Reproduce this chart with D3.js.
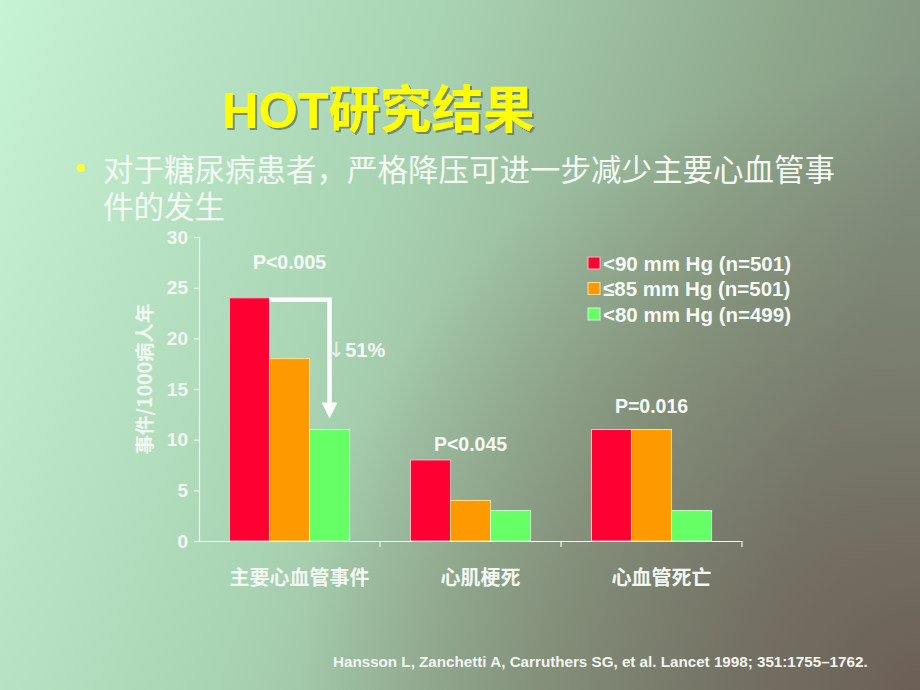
<!DOCTYPE html>
<html>
<head>
<meta charset="utf-8">
<script src="https://cdn.jsdelivr.net/npm/d3@7"></script>
<style>
  html, body { margin: 0; padding: 0; }
  svg { display: block; }
</style>
</head>
<body>
<svg id="chart" width="920" height="690"></svg>
<script>
// data
const categories = ["主要心血管事件", "心肌梗死", "心血管死亡"];
const series = ["<90 mm Hg (n=501)", "≤85 mm Hg (n=501)", "<80 mm Hg (n=499)"];
const red = [24, 8, 11];      // <90
const orange = [18, 4, 11];   // <=85
const green = [11, 3, 3];     // <80
const yTicks = [0, 5, 10, 15, 20, 25, 30];
const pTexts = ["P<0.005", "P<0.045", "P=0.016"];
const pLevels = [26.8, 8.9, 12.6];  // level of each p label, in chart units
const reduction = "51%";

const colors = ["#ff0033", "#ff9900", "#66ff66"];
const edges = ["#ffb6c0", "#ffe08a", "#c8ffc8"];
const values = [red, orange, green];

const svg = d3.select("#chart");
const W = 920, H = 690;
const latin = "'Liberation Sans', Arial, sans-serif";
const cjk = "'Noto Sans CJK SC', 'Liberation Sans', sans-serif";

// background
const defs = svg.append("defs");
const lg = defs.append("linearGradient").attr("id", "bg").attr("x1", 0).attr("y1", 0).attr("x2", 1).attr("y2", 0.25);
lg.append("stop").attr("offset", 0).attr("stop-color", "#c6f3d4");
lg.append("stop").attr("offset", 0.45).attr("stop-color", "#a9d4b4");
lg.append("stop").attr("offset", 0.8).attr("stop-color", "#8fa98d");
lg.append("stop").attr("offset", 1).attr("stop-color", "#839480");
const rg = defs.append("radialGradient").attr("id", "shade")
  .attr("gradientUnits", "userSpaceOnUse").attr("cx", W).attr("cy", H).attr("r", 620);
rg.append("stop").attr("offset", 0).attr("stop-color", "#6c5f55").attr("stop-opacity", 1);
rg.append("stop").attr("offset", 0.5).attr("stop-color", "#6c5f55").attr("stop-opacity", 0.45);
rg.append("stop").attr("offset", 1).attr("stop-color", "#6c5f55").attr("stop-opacity", 0);
const flt = defs.append("filter").attr("id", "tshadow").attr("x", "-5%").attr("y", "-10%").attr("width", "110%").attr("height", "130%");
flt.append("feDropShadow").attr("dx", 2).attr("dy", 2).attr("stdDeviation", 0.6)
  .attr("flood-color", "#5a6a55").attr("flood-opacity", 0.7);

svg.append("rect").attr("width", W).attr("height", H).attr("fill", "url(#bg)");
svg.append("rect").attr("width", W).attr("height", H).attr("fill", "url(#shade)");

// title
svg.append("text").attr("x", 222).attr("y", 128)
  .attr("font-family", latin).attr("font-weight", "bold").attr("font-size", 50.5)
  .attr("fill", "#ffff00").attr("filter", "url(#tshadow)")
  .text("HOT")
  .append("tspan").attr("font-family", cjk).attr("font-size", 51.5).text("研究结果");

// bullet
svg.append("circle").attr("cx", 81).attr("cy", 168).attr("r", 4).attr("fill", "#ffff33");
svg.append("text").attr("x", 103).attr("y", 181)
  .attr("font-family", cjk).attr("font-size", 30.5).attr("fill", "#f4fbf4")
  .text("对于糖尿病患者，严格降压可进一步减少主要心血管事");
svg.append("text").attr("x", 103).attr("y", 218)
  .attr("font-family", cjk).attr("font-size", 30.5).attr("fill", "#f4fbf4")
  .text("件的发生");

// scales
const x0 = d3.scaleBand().domain(categories).range([199, 742]);
const x1 = d3.scaleBand().domain(series).range([0, x0.bandwidth()]).paddingOuter(0.76);
const y = d3.scaleLinear().domain([0, 30]).range([541, 237]);

// bars
const g = svg.append("g");
series.forEach((s, si) => {
  g.selectAll(null).data(categories).join("rect")
    .attr("x", c => x0(c) + x1(s))
    .attr("y", (c, i) => y(values[si][i]))
    .attr("width", x1.bandwidth())
    .attr("height", (c, i) => y(0) - y(values[si][i]))
    .attr("fill", colors[si])
    .attr("stroke", edges[si]).attr("stroke-width", 1);
});

// axes
const axisColor = "#eef6ee";
const yAxis = svg.append("g").attr("transform", "translate(199,0)")
  .call(d3.axisLeft(y).tickValues(yTicks).tickSize(5).tickPadding(6));
const xAxis = svg.append("g").attr("transform", `translate(0,${y(0)})`)
  .call(d3.axisBottom(x0).tickSize(0).tickFormat(""));
[yAxis, xAxis].forEach(a => {
  a.select(".domain").attr("stroke", axisColor).attr("stroke-width", 1.2);
  a.selectAll(".tick line").attr("stroke", axisColor).attr("stroke-width", 1.2);
});
yAxis.selectAll(".tick text").attr("fill", "#f2f8f2")
  .attr("font-family", latin).attr("font-weight", "bold").attr("font-size", 19);
// category boundary ticks
svg.append("g").selectAll("line").data(categories).join("line")
  .attr("x1", c => x0(c) + x0.bandwidth()).attr("x2", c => x0(c) + x0.bandwidth())
  .attr("y1", y(0)).attr("y2", y(0) + 6)
  .attr("stroke", axisColor).attr("stroke-width", 1.2);
// category labels
svg.append("g").selectAll("text").data(categories).join("text")
  .attr("x", c => x0(c) + x0.bandwidth() / 2 + 10).attr("y", 585)
  .attr("text-anchor", "middle")
  .attr("font-family", cjk).attr("font-weight", "bold").attr("font-size", 20)
  .attr("fill", "#f2f8f2").text(c => c);

// y axis title
svg.append("text").attr("transform", "translate(152,379) rotate(-90)")
  .attr("text-anchor", "middle")
  .attr("font-family", cjk).attr("font-weight", "bold").attr("font-size", 19.5)
  .attr("fill", "#f2f8f2")
  .text("事件/1000病人年");

// p values
svg.append("g").selectAll("text").data(categories).join("text")
  .attr("x", c => x0(c) + x0.bandwidth() / 2)
  .attr("y", (c, i) => y(pLevels[i]))
  .attr("text-anchor", "middle")
  .attr("font-family", latin).attr("font-weight", "bold").attr("font-size", 19.5)
  .attr("fill", "#f6fbf6").text((c, i) => pTexts[i]);

// reduction arrow from <90 to <80 in first group
const c0 = categories[0];
const xStart = x0(c0) + x1(series[0]) + x1.bandwidth();
const xMid = x0(c0) + x1(series[2]) + x1.bandwidth() / 2;
const yTop = y(red[0]) + 2;
const yTip = y(green[0]) - 11;
svg.append("path")
  .attr("d", `M${xStart},${yTop} H${xMid} V${yTip - 14}`)
  .attr("fill", "none").attr("stroke", "#ffffff").attr("stroke-width", 4.5);
svg.append("path")
  .attr("d", `M${xMid - 8},${yTip - 16} L${xMid + 8},${yTip - 16} L${xMid},${yTip} Z`)
  .attr("fill", "#ffffff");
const rt = svg.append("text").attr("x", xMid - 2).attr("y", 357)
  .attr("fill", "#f6fbf6").attr("font-family", latin).attr("font-size", 20);
rt.append("tspan").attr("font-family", "'DejaVu Sans', sans-serif").attr("font-size", 21)
  .attr("fill", "#e8f0e8").text("↓");
rt.append("tspan").attr("font-weight", "bold").text(reduction);

// legend
const leg = svg.append("g").attr("transform", "translate(588,257)");
series.forEach((s, i) => {
  const row = leg.append("g").attr("transform", `translate(0,${i * 25.5})`);
  row.append("rect").attr("width", 12).attr("height", 12)
    .attr("fill", colors[i]).attr("stroke", edges[i]).attr("stroke-width", 1);
  row.append("text").attr("x", 15).attr("y", 13.5)
    .attr("font-family", latin).attr("font-weight", "bold").attr("font-size", 20.5)
    .attr("fill", "#f6fbf6").text(s);
});

// citation
svg.append("text").attr("x", 333).attr("y", 667)
  .attr("font-family", latin).attr("font-weight", "bold").attr("font-size", 15.2)
  .attr("fill", "#f2f6f2")
  .text("Hansson L, Zanchetti A, Carruthers SG, et al. Lancet 1998; 351:1755–1762.");
</script>
</body>
</html>
